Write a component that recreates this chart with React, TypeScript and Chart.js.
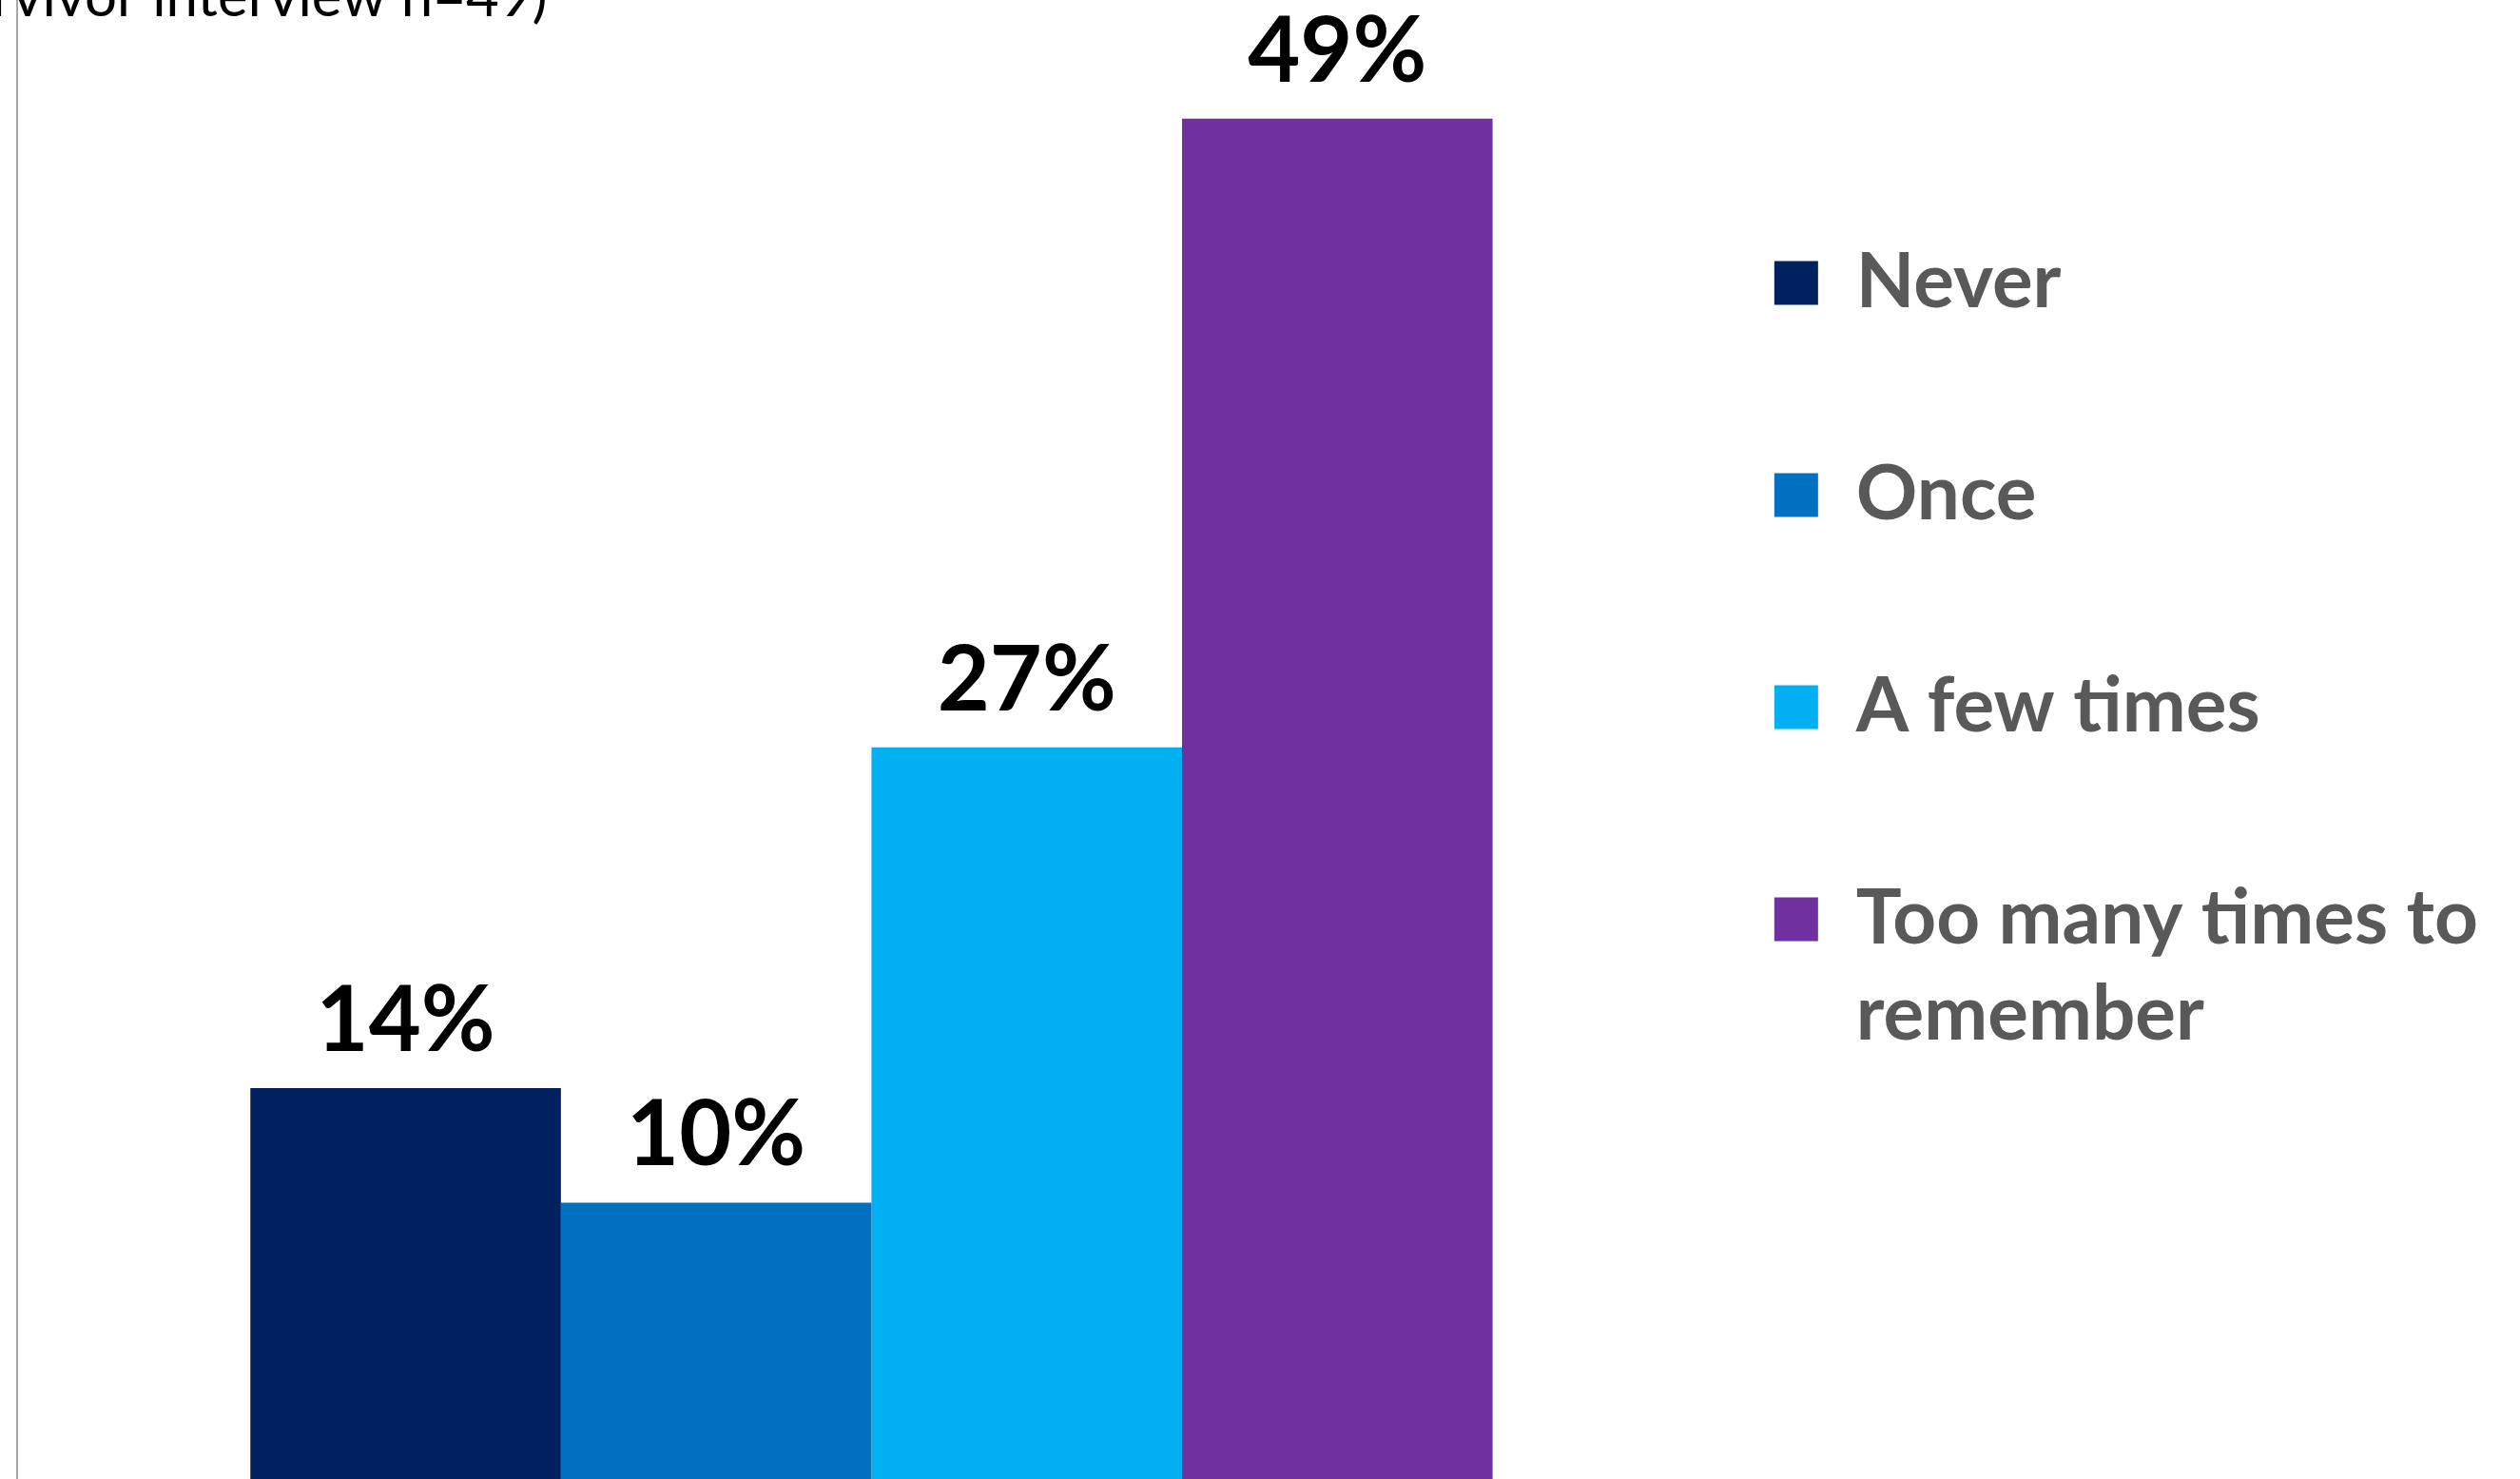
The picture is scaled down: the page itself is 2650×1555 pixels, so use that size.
import React, { useEffect, useRef } from 'react';
import { Chart, registerables } from 'chart.js';

Chart.register(...registerables);

// ---------------- data ----------------
const categories = [''];
const seriesLabels = ['Never', 'Once', 'A few times', 'Too many times to remember'];
const seriesValues = [14.3, 10.2, 26.5, 49.0];
const seriesColors = ['#002060', '#0070C0', '#00B0F0', '#7030A0'];
const legendLines = [['Never', ''], ['Once', ''], ['A few times', ''], ['Too many times to', 'remember']];
const titleText = '(Base: survivor interview n=49)';
const titleHiddenPrefix = '(Base: su';
const yMax = 55;

// ---------------- layout / style ----------------
const FONT = 'Lato';
const TITLE_SIZE = 60;
const LEGEND_SIZE = 80;
const LEGEND_LINE = 101;
const LABEL_SIZE = 95;
const LABEL_GAP = 39;
const TOP_OFFSET = 178;
const BASELINE_Y = 1564;
const CANVAS_H = BASELINE_Y + TOP_OFFSET;
const AXIS_X = 18;
const AREA_RIGHT = 1815;
const LEG_BOX_X = 1866;
const LEG_PAD = 21;
const BOX = 46;
const R_START = -8;
const PX_PER_UNIT = 29.37;

function measure(font: string, texts: string[]): number {
  const c = document.createElement('canvas').getContext('2d') as CanvasRenderingContext2D;
  c.font = font;
  return Math.max(...texts.map((t) => c.measureText(t).width));
}

const valueLabelPlugin = {
  id: 'valueLabels',
  afterDatasetsDraw(chart: any) {
    const ctx = chart.ctx;
    ctx.save();
    ctx.font = `normal bold ${LABEL_SIZE}px ${FONT}`;
    ctx.fillStyle = '#000000';
    ctx.textAlign = 'center';
    ctx.textBaseline = 'alphabetic';
    chart.data.datasets.forEach((ds: any, i: number) => {
      const meta = chart.getDatasetMeta(i);
      meta.data.forEach((el: any, j: number) => {
        const v = ds.data[j] as number;
        ctx.fillText(`${Math.round(v)}%`, el.x, el.y - LABEL_GAP);
      });
    });
    ctx.restore();
  },
};

export default function App() {
  const ref = useRef<HTMLCanvasElement | null>(null);

  const prefixW = measure(`normal normal ${TITLE_SIZE}px ${FONT}`, [titleHiddenPrefix]);
  const lx = Math.round(prefixW - R_START);
  const legendTextW = measure(`normal bold ${LEGEND_SIZE}px ${FONT}`, legendLines.flat());
  const legendW = LEG_PAD + BOX + LEGEND_SIZE / 2 + legendTextW + 10;
  const spacer = LEG_BOX_X - LEG_PAD - AREA_RIGHT;
  const canvasW = Math.round(AREA_RIGHT + lx + spacer + legendW);
  const yAxisW = AXIS_X + lx;

  // chart area: bottom at canvas bottom, height = yMax * PX_PER_UNIT
  const areaH = yMax * PX_PER_UNIT;
  const titleBoxH = CANVAS_H - areaH;
  const padTop = TOP_OFFSET - 38;
  const padBottom = titleBoxH - padTop - TITLE_SIZE * 1.2;

  useEffect(() => {
    if (!ref.current) return;
    const chart = new Chart(ref.current, {
      type: 'bar',
      data: {
        labels: categories,
        datasets: seriesLabels.map((label, i) => ({
          label,
          data: [seriesValues[i]],
          backgroundColor: seriesColors[i],
          borderWidth: 0,
          barPercentage: 1,
          categoryPercentage: 0.727,
        })),
      },
      options: {
        animation: false,
        responsive: true,
        maintainAspectRatio: false,
        events: [],
        layout: { padding: 0 },
        scales: {
          x: { display: false },
          y: {
            type: 'linear',
            position: 'left',
            min: 0,
            max: yMax,
            ticks: { display: false },
            grid: { display: false, drawTicks: false },
            border: { display: true, color: '#a6a6a6', width: 2 },
            afterFit: (s: any) => {
              s.width = yAxisW;
            },
          },
          spacer: {
            type: 'linear',
            position: 'right',
            display: true,
            ticks: { display: false },
            grid: { display: false, drawTicks: false },
            border: { display: false },
            afterFit: (s: any) => {
              s.width = spacer;
            },
          },
        },
        plugins: {
          tooltip: { enabled: false },
          title: {
            display: true,
            text: titleText,
            align: 'start',
            color: '#000000',
            font: { family: FONT, size: TITLE_SIZE, weight: 'normal', lineHeight: 1.2 },
            padding: { top: padTop, bottom: padBottom },
          },
          legend: {
            display: true,
            position: 'right',
            align: 'center',
            maxWidth: 5000,
            labels: {
              boxWidth: BOX,
              boxHeight: BOX,
              padding: LEG_PAD,
              color: '#595959',
              font: { family: FONT, size: LEGEND_SIZE, weight: 'bold', lineHeight: LEGEND_LINE / LEGEND_SIZE },
              generateLabels: () =>
                legendLines.map((lines, i) => ({
                  text: lines as any,
                  fillStyle: seriesColors[i],
                  strokeStyle: seriesColors[i],
                  lineWidth: 0,
                  hidden: false,
                  datasetIndex: i,
                  fontColor: '#595959',
                })),
            },
          },
        },
      } as any,
      plugins: [valueLabelPlugin],
    });
    return () => chart.destroy();
  }, []);

  return (
    <div
      style={{
        position: 'absolute',
        left: 0,
        top: 0,
        width: 2650,
        height: 1555,
        overflow: 'hidden',
        background: '#ffffff',
      }}
    >
      <div
        style={{
          position: 'absolute',
          left: -lx,
          top: -TOP_OFFSET,
          width: canvasW,
          height: CANVAS_H,
        }}
      >
        <canvas ref={ref} />
      </div>
    </div>
  );
}
